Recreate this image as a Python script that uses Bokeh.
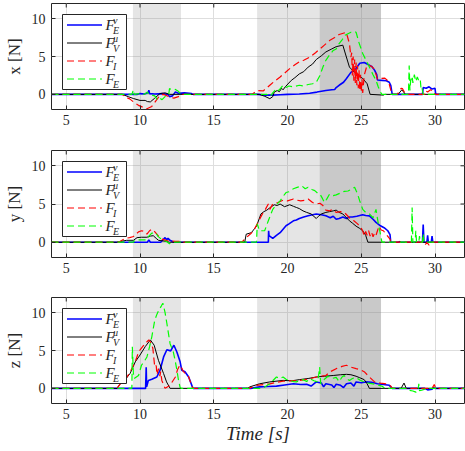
from bokeh.plotting import figure
from bokeh.models import Range1d, FixedTicker, BoxAnnotation
from bokeh.core.properties import value
from bokeh.layouts import column
from bokeh.embed import file_html
from bokeh.resources import INLINE

# ---------------- data ----------------
x_ticks = [5, 10, 15, 20, 25, 30]
y_ticks = [0, 5, 10]
x_lim = (4, 32)
y_lim = (-2, 12)

phase_light = [(9.52, 12.78), (17.94, 22.18)]
phase_dark = [(22.18, 26.34)]

# x component
x_FEnu = [(4,0),(9.8,0),(10.0,0.1),(10.3,0.05),(10.55,0.2),(10.6,0.55),(10.65,0.1),(11.0,0.05),
          (11.5,0.1),(11.9,0.0),(12.0,-0.3),(12.2,-0.2),(12.4,0.3),(12.6,0.15),(13.0,0.2),(13.5,0.1),
          (13.6,0),(18.0,0),(18.5,-0.1),(19.0,-0.1),(19.5,-0.05),(20.0,0.0),(20.8,0.05),(21.5,0.15),
          (22.0,0.3),(22.3,0.4),(22.6,0.5),(23.0,0.6),(23.2,0.65),(23.3,0.9),(23.5,1.2),(23.8,1.6),
          (24.0,2.1),(24.3,2.9),(24.6,3.3),(24.9,4.1),(25.2,4.2),(25.4,4.0),(25.7,3.7),(25.9,3.2),
          (26.05,2.6),(26.1,1.9),(26.4,1.85),(26.7,1.8),(26.9,1.6),(27.0,1.2),(27.1,0),(29.15,0),
          (29.2,0.9),(29.4,0.8),(29.6,1.0),(29.8,0.7),(30.0,0.8),(30.05,0),(32,0)]
x_FVmu = [(4,0),(8.8,0),(9.2,-0.3),(9.55,-0.55),(10.0,-0.8),(10.35,-0.8),(10.5,-0.95),(10.7,-1.0),
          (11.0,-0.5),(11.35,0.1),(11.7,0.2),(12.0,0),(18.1,0),(18.46,-0.26),(18.8,-0.57),(19.0,-0.3),
          (19.1,0.3),(19.3,0.5),(19.45,0.35),(19.6,0.8),(19.7,0.6),(19.85,1.0),(20.26,1.85),(20.5,2.2),
          (20.8,2.7),(21.1,3.0),(21.4,3.6),(21.7,4.0),(21.95,4.6),(22.3,5.1),(22.6,5.6),(23.0,6.0),
          (23.3,6.3),(23.75,6.5),(23.95,5.2),(24.2,3.6),(24.65,2.7),(25.1,2.1),(25.4,1.4),(25.6,0),
          (26.5,-0.1),(26.6,0),(27.5,0),(27.75,0.6),(28.0,0),(32,0)]
x_FI = [(4,0),(8.8,0),(9.0,-0.35),(9.3,-0.6),(9.56,-1.0),(9.9,-1.45),(10.2,-1.7),(10.47,-1.9),
        (10.8,-1.6),(11.1,-0.8),(11.36,-0.1),(11.6,0),(12.0,-0.35),(12.3,-0.5),(12.6,-0.3),(12.9,0),
        (17.6,0),(17.8,0.3),(18.0,0.5),(18.35,0.45),(18.8,1.2),(19.1,1.7),(19.5,2.3),(19.8,2.8),
        (20.15,3.4),(20.5,3.9),(20.8,4.3),(21.1,4.5),(21.5,4.9),(21.9,5.5),(22.2,6.0),(22.5,6.5),
        (22.85,7.1),(23.2,7.5),(23.5,7.9),(23.98,8.2),(24.2,6.7),(24.3,4.9),(24.35,5.5),(24.4,2.5),
        (24.45,5.0),(24.5,1.8),(24.55,4.6),(24.6,1.5),(24.65,4.2),(24.7,1.2),(24.75,3.8),(24.8,0.8),
        (24.85,3.2),(24.9,0.5),(24.95,2.6),(25.0,0.3),(25.05,2.0),(25.1,0.2),(25.2,2.5),(25.4,3.9),
        (25.7,3.7),(25.9,3.3),(26.1,2.0),(26.3,2.1),(26.6,2.15),(26.85,1.7),(27.0,0.6),(27.1,0),
        (27.45,0),(27.7,0.8),(27.8,0.75),(28.0,0),(29.3,0),(29.35,0.5),(29.5,0.3),(29.7,0.6),
        (29.9,0.4),(30.0,0),(32,0)]
x_FE = [(4,0),(9.45,0),(9.55,0.6),(9.6,0),(10.0,0.1),(10.3,0.0),(10.5,0.3),(10.6,0),(11.0,-0.2),
        (11.2,-0.8),(11.4,-0.6),(11.5,-0.7),(11.8,-0.1),(11.95,0),(12.0,0.75),(12.2,0.6),(12.4,0.65),
        (12.6,0.4),(12.8,0),(18.6,0),(18.8,-0.3),(19.0,0.2),(19.25,0.75),(19.4,0.5),(19.7,1.2),
        (19.9,0.9),(20.1,1.1),(20.4,1.0),(20.8,1.2),(21.1,1.1),(21.4,1.3),(21.7,1.4),(21.95,1.6),
        (22.2,2.5),(22.4,3.6),(22.6,4.5),(22.85,5.2),(23.1,5.8),(23.3,6.0),(23.5,6.7),(23.7,7.2),
        (23.9,7.8),(24.1,8.0),(24.3,8.2),(24.5,8.3),(24.65,8.2),(24.85,6.8),(25.1,5.4),(25.3,4.6),
        (25.55,3.6),(25.8,2.6),(26.0,1.85),(26.15,1.0),(26.3,0.3),(26.4,0),(28.2,0),(28.25,3.8),
        (28.3,0.5),(28.35,1.8),(28.45,2.4),(28.5,1.5),(28.6,2.6),(28.7,1.7),(28.8,2.3),(28.9,1.8),
        (29.0,2.0),(29.05,0.8),(29.1,1.0),(29.2,0),(32,0)]

# y component
y_FEnu = [(4,0),(10.5,0),(10.6,0.3),(10.7,0),(11.4,0),(11.5,0.2),(11.7,0.6),(11.8,0.3),(11.9,0.5),
          (12.0,0.3),(12.3,0),(18.7,0),(18.72,1.5),(18.75,0.85),(19.0,0.5),(19.25,0.9),(19.5,1.25),
          (19.7,1.7),(19.9,2.15),(20.1,2.4),(20.4,2.8),(20.6,2.9),(20.8,3.1),(21.1,3.3),(21.4,3.45),
          (21.7,3.6),(21.95,3.7),(22.3,3.6),(22.6,3.45),(22.9,3.2),(23.1,3.4),(23.3,3.0),(23.5,3.1),
          (23.75,3.3),(24.0,3.1),(24.2,3.3),(24.4,3.3),(24.7,3.4),(24.9,3.5),(25.1,3.6),(25.3,3.5),
          (25.55,3.45),(25.8,3.0),(26.0,2.6),(26.3,2.15),(26.55,1.9),(26.8,1.5),(26.95,1.0),(27.0,0),
          (29.15,0),(29.2,2.3),(29.25,0),(29.45,0),(29.5,0.9),(29.55,0),(29.75,0),(29.8,0.8),
          (29.85,0),(32,0)]
y_FVmu = [(4,0),(8.4,0),(8.8,0.15),(9.1,0.25),(9.56,0.25),(9.8,0.6),(10.1,0.65),(10.47,0.65),
          (10.7,0.8),(10.9,0.85),(11.1,0.5),(11.25,0.25),(11.8,0.1),(12.0,0),(17.1,0),(17.2,1.05),
          (17.55,1.25),(17.9,2.1),(18.2,3.7),(18.4,4.0),(18.6,4.2),(18.8,4.5),(19.1,4.9),(19.3,4.8),
          (19.5,5.0),(19.8,4.65),(20.15,4.9),(20.4,4.7),(20.6,4.55),(20.8,4.4),(21.05,4.1),(21.3,3.9),
          (21.6,3.7),(21.95,3.1),(22.1,3.4),(22.3,3.7),(22.6,3.9),(22.85,4.0),(23.1,4.1),(23.3,4.2),
          (23.5,3.9),(23.75,3.7),(24.0,3.2),(24.2,2.8),(24.4,2.5),(24.65,2.1),(24.9,1.8),(25.1,1.5),
          (25.3,0.9),(25.45,0),(27.5,0),(27.6,0.1),(27.7,0),(32,0)]
y_FI = [(4,0),(8.55,0),(9.0,0.5),(9.3,0.6),(9.56,0.75),(9.9,1.35),(10.1,1.5),(10.3,1.4),(10.47,1.05),
        (10.65,1.5),(10.8,1.7),(10.95,1.5),(11.14,1.05),(11.3,0.7),(11.5,0.4),(11.8,0.2),(12.4,0.1),
        (12.7,0.1),(13.0,0),(16.9,0),(17.2,0.6),(17.5,1.1),(17.7,1.5),(18.0,2.6),(18.35,3.9),
        (18.5,4.3),(18.7,5.0),(18.8,4.3),(19.0,5.0),(19.35,5.2),(19.7,5.5),(20.0,5.4),(20.4,5.65),
        (20.65,5.5),(20.9,5.4),(21.2,5.5),(21.4,5.65),(21.7,5.2),(21.95,5.0),(22.2,5.1),(22.4,4.8),
        (22.6,4.2),(22.85,4.1),(23.05,4.3),(23.3,3.9),(23.6,4.0),(23.85,3.9),(24.1,3.4),(24.3,3.0),
        (24.5,2.8),(24.75,2.4),(24.95,2.0),(25.1,1.5),(25.2,0.8),(25.3,1.4),(25.4,0.9),(25.5,1.5),
        (25.6,0.8),(25.7,1.3),(25.8,0.7),(25.9,1.2),(26.0,0.9),(26.1,1.5),(26.2,2.1),(26.35,1.6),
        (26.5,1.5),(26.7,1.0),(26.95,0.4),(27.0,0),(29.3,0),(29.35,-0.3),(29.45,0),(29.6,-0.4),
        (29.7,0),(32,0)]
y_FE = [(4,0),(9.56,0),(9.6,0.15),(9.8,0.3),(10.1,0.3),(10.47,0.3),(10.6,0.8),(10.8,1.2),(11.1,1.2),
        (11.2,0.8),(11.5,0.3),(11.8,0.1),(12.0,-0.2),(12.1,0),(17.9,0),(17.95,2.4),(18.1,1.5),
        (18.45,1.5),(18.7,2.8),(19.0,4.3),(19.25,4.9),(19.5,5.4),(19.7,6.0),(19.9,6.5),(20.1,6.6),
        (20.4,7.0),(20.7,7.2),(20.95,7.4),(21.2,7.0),(21.4,7.2),(21.65,6.9),(21.85,6.75),(22.05,6.4),
        (22.2,6.3),(22.35,5.8),(22.5,5.2),(22.65,5.6),(22.85,6.3),(23.1,6.1),(23.3,6.2),(23.55,6.4),
        (23.85,6.65),(24.1,6.7),(24.3,6.9),(24.55,7.2),(24.75,6.3),(24.9,5.4),(25.1,4.3),(25.3,3.9),
        (25.55,3.7),(25.8,3.2),(26.0,4.3),(26.15,2.5),(26.3,1.05),(26.4,0),(28.4,0),(28.45,4.55),
        (28.5,0),(28.65,0),(28.7,1.5),(28.75,0),(28.9,0),(28.95,0.8),(29.0,0),(29.15,0),(29.2,1.1),
        (29.25,0),(32,0)]

# z component
z_FEnu = [(4,0),(10.38,0),(10.42,2.8),(10.45,0.2),(10.57,1.05),(10.8,1.2),(11.14,1.5),(11.36,2.4),
          (11.6,4.15),(11.82,5.1),(12.08,4.95),(12.3,5.7),(12.5,4.8),(12.72,3.5),(12.83,2.4),
          (13.05,2.2),(13.3,1.5),(13.57,0.1),(13.6,0),(17.5,0),(18.1,0.2),(18.7,0.25),(19.25,0.3),
          (19.8,0.45),(20.4,0.6),(20.9,0.5),(21.3,0.55),(21.6,0.3),(21.95,0.85),(22.3,0.7),(22.45,0.2),
          (22.6,0.6),(23.0,0.45),(23.15,0.1),(23.3,0.55),(23.6,0.4),(23.8,0.1),(24.0,0.6),(24.3,0.7),
          (24.5,0.3),(24.65,0.85),(25.0,0.75),(25.3,0.85),(25.7,0.8),(26.1,0.6),(26.5,0.5),(26.9,0.4),
          (27.1,0),(29.3,0),(29.5,-0.2),(29.8,-0.1),(29.9,0.1),(30.0,0),(32,0)]
z_FVmu = [(4,0),(8.44,0),(8.66,0.6),(9.0,1.15),(9.34,2.0),(9.68,3.5),(10.0,4.4),(10.35,5.5),(10.7,6.4),
          (10.96,5.7),(11.25,3.7),(11.6,1.95),(11.8,0.85),(12.04,0),(17.3,0),(17.45,0.2),(18.1,0.6),
          (18.8,0.85),(19.7,1.05),(20.3,1.0),(20.8,1.15),(21.4,1.3),(21.95,1.5),(22.5,1.6),(23.1,1.7),
          (23.6,1.8),(24.0,1.85),(24.3,1.8),(24.65,1.6),(24.9,1.4),(25.2,1.15),(25.4,0.6),(25.55,0),
          (27.7,0),(27.9,0.7),(28.05,0),(32,0)]
z_FI = [(4,0),(8.44,0),(8.66,0.6),(9.0,1.15),(9.34,2.2),(9.56,3.05),(9.75,3.9),(9.9,4.8),(10.1,5.3),
        (10.3,5.8),(10.47,6.15),(10.6,6.4),(10.75,6.0),(10.87,5.3),(11.0,2.8),(11.1,3.0),(11.15,1.8),
        (11.25,2.6),(11.35,1.6),(11.4,2.2),(11.48,1.05),(11.7,0),(12.04,0.4),(12.2,0.9),(12.4,1.5),
        (12.55,2.5),(12.7,3.05),(12.85,2.6),(12.95,2.2),(13.1,1.9),(13.3,1.5),(13.5,0.4),(13.6,0),
        (17.4,0),(17.9,0.4),(18.8,0.6),(19.7,0.95),(20.8,1.05),(21.4,1.2),(21.95,1.5),(22.6,1.7),
        (22.9,2.2),(23.3,2.6),(23.7,2.9),(24.0,3.05),(24.3,2.8),(24.65,2.6),(24.9,2.5),(25.2,2.2),
        (25.5,1.6),(25.9,0.85),(26.3,0.7),(26.7,0.6),(27.0,0.3),(27.1,0),(29.8,0),(29.95,0.5),
        (30.05,0),(32,0)]
z_FE = [(4,0),(9.45,0),(9.48,5.5),(9.55,2.0),(9.6,1.3),(9.9,1.7),(10.1,3.05),(10.3,3.6),(10.47,4.15),
        (10.65,5.5),(10.8,6.8),(11.0,9.0),(11.15,9.8),(11.3,10.4),(11.45,10.9),(11.55,11.25),
        (11.7,10.0),(11.82,8.6),(11.95,7.0),(12.04,5.9),(12.26,4.8),(12.4,3.5),(12.5,2.4),(12.6,1.2),
        (12.72,0.1),(12.8,0),(18.3,0),(18.8,0.6),(19.0,1.0),(19.25,1.5),(19.5,1.3),(19.7,1.5),
        (19.9,1.2),(20.15,1.05),(20.4,0.9),(20.6,0.85),(20.8,1.0),(21.05,1.15),(21.3,0.9),(21.5,1.3),
        (21.8,1.0),(22.05,0.85),(22.18,2.8),(22.25,0.6),(22.5,1.2),(22.75,1.6),(23.0,1.3),(23.3,1.45),
        (23.5,0.9),(23.7,1.5),(23.85,1.7),(24.0,1.3),(24.2,1.05),(24.4,1.3),(24.65,1.45),(24.9,1.1),
        (25.2,0.85),(25.5,0.7),(25.8,0.6),(26.1,0.45),(26.4,0.3),(26.6,0),(28.1,0),(28.25,-0.25),
        (28.5,-0.35),(28.7,-0.5),(28.85,-0.3),(28.9,0.6),(28.95,-0.3),(29.1,-0.25),(29.3,-0.1),
        (29.4,0),(32,0)]

legend_main = ["F", "F", "F", "F"]
legend_sub = ["E", "V", "I", "E"]
legend_sup = ["\u03bd", "\u03bc", "", ""]

# ---------------- styling ----------------
FONT = "Liberation Serif"
AX = "#262626"
W = 465
BL, BR = 51, 1
styles = [
    dict(color="#0000ff", line_width=1.6, line_dash="solid"),
    dict(color="#000000", line_width=1.0, line_dash="solid"),
    dict(color="#ff0000", line_width=1.2, line_dash="7 4"),
    dict(color="#00ff00", line_width=1.2, line_dash="7 4"),
]

panels = [
    dict(label="x [N]", data=[x_FEnu, x_FVmu, x_FI, x_FE], h=137, top=3, bottom=28, xlabel=None),
    dict(label="y [N]", data=[y_FEnu, y_FVmu, y_FI, y_FE], h=147, top=13, bottom=27, xlabel=None),
    dict(label="z [N]", data=[z_FEnu, z_FVmu, z_FI, z_FE], h=167, top=13, bottom=48, xlabel="Time [s]"),
]

# legend geometry in frame pixels (from top-left of the plot frame)
LEG_L, LEG_T, LEG_W, LEG_H = 11, 11, 64, 75
ROW0, ROW_DY = 10.5, 18
SAMPLE_X0, SAMPLE_X1 = 15.5, 50.5
TEXT_X, SCRIPT_X = 54, 61.5


def make_panel(cfg):
    frame_w = W - BL - BR
    frame_h = cfg["h"] - cfg["top"] - cfg["bottom"]
    p = figure(width=W, height=cfg["h"], x_range=Range1d(*x_lim), y_range=Range1d(*y_lim),
               output_backend="svg", toolbar_location=None,
               min_border_left=BL, min_border_right=BR,
               min_border_top=cfg["top"], min_border_bottom=cfg["bottom"])
    p.extra_x_ranges = {"px": Range1d(0, frame_w)}
    p.extra_y_ranges = {"py": Range1d(frame_h, 0)}
    p.background_fill_color = "white"
    p.border_fill_color = "white"
    p.outline_line_color = AX
    p.outline_line_width = 1

    p.xaxis.ticker = FixedTicker(ticks=x_ticks)
    p.yaxis.ticker = FixedTicker(ticks=y_ticks)
    p.xgrid.ticker = FixedTicker(ticks=x_ticks)
    p.ygrid.ticker = FixedTicker(ticks=y_ticks)
    for g in (p.xgrid, p.ygrid):
        g.grid_line_color = "#dedede"
        g.grid_line_width = 1

    for ax in (p.xaxis, p.yaxis):
        ax.axis_line_color = None
        ax.major_tick_in = 4
        ax.major_tick_out = 0
        ax.minor_tick_line_color = None
        ax.major_tick_line_color = AX
        ax.major_label_text_font = FONT
        ax.major_label_text_font_size = "14px"
        ax.major_label_text_color = AX
    p.xaxis.major_label_standoff = 5
    p.yaxis.major_label_standoff = 6
    p.yaxis.axis_label = cfg["label"]
    p.yaxis.axis_label_text_font = FONT
    p.yaxis.axis_label_text_font_size = "17px"
    p.yaxis.axis_label_text_font_style = "normal"
    p.yaxis.axis_label_text_color = AX
    p.yaxis.axis_label_standoff = 5
    if cfg["xlabel"]:
        p.xaxis.axis_label = cfg["xlabel"]
        p.xaxis.axis_label_text_font = FONT
        p.xaxis.axis_label_text_font_size = "19px"
        p.xaxis.axis_label_text_font_style = "italic"
        p.xaxis.axis_label_text_color = AX
        p.xaxis.axis_label_standoff = 1

    # shaded phases (translucent, grid shows through)
    for (a, b) in phase_light:
        p.add_layout(BoxAnnotation(left=a, right=b, fill_color="#7f7f7f", fill_alpha=0.2,
                                   line_color=None, level="underlay"))
    for (a, b) in phase_dark:
        p.add_layout(BoxAnnotation(left=a, right=b, fill_color="#7f7f7f", fill_alpha=0.42,
                                   line_color=None, level="underlay"))

    # mirrored inward ticks on top and right of the box
    p.segment(x0=x_ticks, x1=x_ticks, y0=[0] * len(x_ticks), y1=[4] * len(x_ticks),
              y_range_name="py", line_color=AX, line_width=1)
    p.segment(x0=[frame_w] * len(y_ticks), x1=[frame_w - 4] * len(y_ticks), y0=y_ticks, y1=y_ticks,
              x_range_name="px", line_color=AX, line_width=1)

    # data lines
    for pts, st in zip(cfg["data"], styles):
        t = [q[0] for q in pts]
        v = [q[1] for q in pts]
        p.line(t, v, line_color=st["color"], line_width=st["line_width"],
               line_dash=st["line_dash"])

    # legend (drawn in frame-pixel coordinates)
    p.quad(left=[LEG_L], right=[LEG_L + LEG_W], top=[LEG_T], bottom=[LEG_T + LEG_H],
           x_range_name="px", y_range_name="py", fill_color="white", line_color=AX, line_width=1)
    rows = [LEG_T + ROW0 + ROW_DY * i for i in range(len(styles))]
    for yc, st in zip(rows, styles):
        p.line([SAMPLE_X0, SAMPLE_X1], [yc, yc], x_range_name="px", y_range_name="py",
               line_color=st["color"], line_width=st["line_width"], line_dash=st["line_dash"])
    p.text(x=[TEXT_X] * 4, y=rows, text=legend_main, x_range_name="px", y_range_name="py",
           text_font=value(FONT), text_font_size="15px", text_font_style="italic",
           text_color=AX, text_baseline="middle", text_align="left")
    p.text(x=[SCRIPT_X] * 4, y=[r + 5.5 for r in rows], text=legend_sub,
           x_range_name="px", y_range_name="py",
           text_font=value(FONT), text_font_size="10px", text_font_style="italic",
           text_color=AX, text_baseline="middle", text_align="left")
    sup_rows = [r - 4.5 for r, s in zip(rows, legend_sup) if s]
    sup_txt = [s for s in legend_sup if s]
    p.text(x=[SCRIPT_X] * len(sup_txt), y=sup_rows, text=sup_txt,
           x_range_name="px", y_range_name="py",
           text_font=value(FONT), text_font_size="10px", text_font_style="italic",
           text_color=AX, text_baseline="middle", text_align="left")
    return p


figs = [make_panel(c) for c in panels]
layout = column(*figs, spacing=0)
open("out.html", "w").write(file_html(layout, INLINE))
